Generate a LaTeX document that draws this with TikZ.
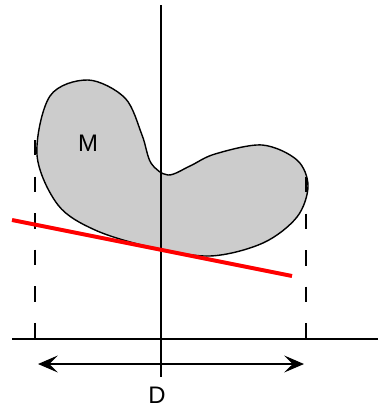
\documentclass[tikz,border=0pt]{standalone}
\usepackage{fontspec}
\setmainfont{Liberation Sans}
\usetikzlibrary{arrows.meta,positioning}
\definecolor{blobgray}{RGB}{204,204,204}
\definecolor{support}{RGB}{255,0,0}

\begin{document}
\begin{tikzpicture}[
  x=0.025cm, y=-0.025cm,
  axisline/.style={line width=1pt, black},
  proj/.style={line width=1pt, black, dash pattern=on 11pt off 15pt},
  blob/.style={line width=1pt, black, fill=blobgray},
  label/.style={font=\fontsize{17}{17}\selectfont, inner sep=0pt},
  width arrow/.style={line width=1pt, {Stealth[length=14pt,width=12pt,inset=6pt]}-{Stealth[length=14pt,width=12pt,inset=6pt]}}
]
  \useasboundingbox (0,0) rectangle (378,409);

  % ── the body M ──
  \draw[blob] plot[smooth cycle, tension=0.55] coordinates {
    (88,80) (125,98) (142,135) (151,163) (168,175) (190,166)
    (215,154) (262,145) (297,160) (308,186) (297,217) (263,243)
    (210,256) (150,247) (95,230) (58,205) (37,155) (50,96)};
  \node[label] (m) at (88,143) {M};

  % ── axes ──
  \coordinate (vtop) at (161,5);
  \coordinate (vbot) at (161,377);
  \coordinate (hleft) at (12,339);
  \coordinate (hright) at (378,339);
  \draw[axisline] (vtop) -- (vbot);
  \draw[axisline] (hleft) -- (hright);

  % ── projections ──
  \coordinate (ltop) at (35,140);
  \coordinate (lbot) at (35,339);
  \coordinate (rtop) at (306,177);
  \coordinate (rbot) at (306,339);
  \draw[proj] (ltop) -- (lbot);
  \draw[proj] (rtop) -- (rbot);

  % ── supporting line ──
  \coordinate (sleft) at (12,220);
  \coordinate (sright) at (292,276);
  \draw[support, line width=2.8pt] (sleft) -- (sright);

  % ── width ──
  \coordinate (aleft) at (38,364);
  \coordinate (aright) at (304,364);
  \draw[width arrow] (aleft) -- (aright);
  \node[label] (d) at (157,395) {D};
\end{tikzpicture}
\end{document}
